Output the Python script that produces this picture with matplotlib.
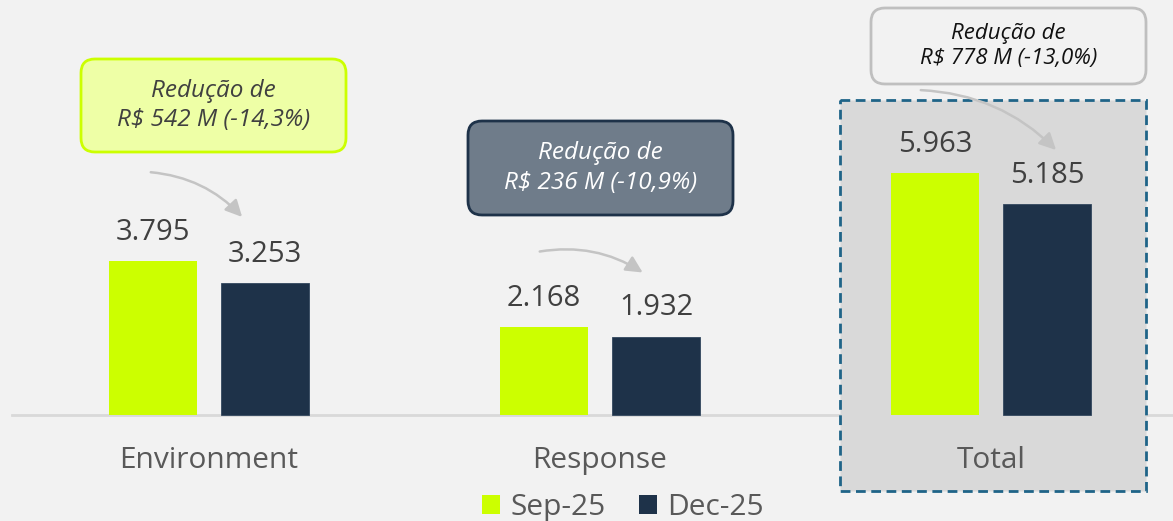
import matplotlib
matplotlib.use("Agg")
import matplotlib.pyplot as plt
from matplotlib.patches import Rectangle, FancyBboxPatch, FancyArrowPatch, Patch

plt.rcParams["font.family"] = ["Open Sans", "DejaVu Sans"]

# data
categories = ["Environment", "Response", "Total"]
sep_25 = [3.795, 2.168, 5.963]
dec_25 = [3.253, 1.932, 5.185]
series_labels = ["Sep-25", "Dec-25"]
callouts = [
    "Redução de\nR$ 542 M (-14,3%)",
    "Redução de\nR$ 236 M (-10,9%)",
    "Redução de\nR$ 778 M (-13,0%)",
]

# style
bg = "#F2F2F2"
lime = "#CCFF00"
navy = "#1E3249"
text_grey = "#595959"

fig = plt.figure(figsize=(11.73, 5.21), dpi=100)
fig.patch.set_facecolor(bg)

# main axes - bars
ax = fig.add_axes([0, 0, 1, 1])
ax.set_facecolor("none")
ax.axis("off")
ax.set_xlim(-0.5345, 2.4655)
ax.set_ylim(-2.611, 10.222)

# overlay axes in pixel coords for callouts
ov = fig.add_axes([0, 0, 1, 1], zorder=-1)
ov.set_xlim(0, 1173)
ov.set_ylim(521, 0)
ov.axis("off")
ov.set_facecolor("none")

width = 0.225
offset = 0.1432
xs = list(range(len(categories)))

ax.bar([x - offset for x in xs], sep_25, width=width, color=lime, zorder=3)
ax.bar([x + offset for x in xs], dec_25, width=width, color=navy,
       edgecolor="#33475E", linewidth=0.6, zorder=3)

for x, v in zip(xs, sep_25):
    ax.text(x - offset, v + 0.52, f"{v:.3f}", ha="center", va="baseline",
            fontsize=21, color="#404040", zorder=4)
for x, v in zip(xs, dec_25):
    ax.text(x + offset, v + 0.52, f"{v:.3f}", ha="center", va="baseline",
            fontsize=21, color="#404040", zorder=4)

for x, c in zip(xs, categories):
    ax.text(x, -1.12, c, ha="center", va="center", fontsize=21.5,
            color=text_grey, zorder=4)

# baseline
ov.plot([12, 1173], [415, 415], color="#D9D9D9", linewidth=2, zorder=1)

# highlight for total
ov.add_patch(Rectangle((840, 100), 306, 391, facecolor="#D9D9D9",
                       edgecolor="#1F6488", linewidth=2,
                       linestyle=(0, (3.5, 2)), zorder=2))

# callout boxes
box_specs = [
    # (x, y, w, h, face, edge, text colour, fontsize)
    (81, 59, 265, 93, "#EEFFA6", lime, "#404040", 17.5),
    (468, 121, 265, 94, "#6F7C8A", navy, "white", 17.5),
    (871, 8, 275, 76, bg, "#BFBFBF", "#111111", 16),
]
for (bx, by, bw, bh, fc, ec, tc, fs), txt in zip(box_specs, callouts):
    ov.add_patch(FancyBboxPatch((bx, by), bw, bh,
                                boxstyle="round,pad=0,rounding_size=14",
                                facecolor=fc, edgecolor=ec, linewidth=2,
                                zorder=3))
    ov.text(bx + bw / 2, by + bh / 2, txt, ha="center", va="center",
            fontsize=fs, style="italic", color=tc, linespacing=1.3,
            zorder=4)

# curved arrows
arrow_specs = [
    ((148, 172), (244, 219)),
    ((537, 252), (645, 274)),
    ((918, 90), (1058, 152)),
]
for a, b in arrow_specs:
    ov.add_patch(FancyArrowPatch(a, b, connectionstyle="arc3,rad=-0.2",
                                 arrowstyle="-|>,head_length=10,head_width=5",
                                 color="#C4C4C4", linewidth=1.8, zorder=4))

# legend
handles = [Patch(facecolor=lime), Patch(facecolor=navy)]
fig.legend(handles, series_labels, loc="center", bbox_to_anchor=(0.531, 0.026),
           ncol=2, frameon=False, fontsize=21.5, handlelength=0.6,
           handleheight=0.6, handletextpad=0.35, columnspacing=1.1,
           labelcolor=text_grey)

fig.savefig("out.png", dpi=100, facecolor=bg)
